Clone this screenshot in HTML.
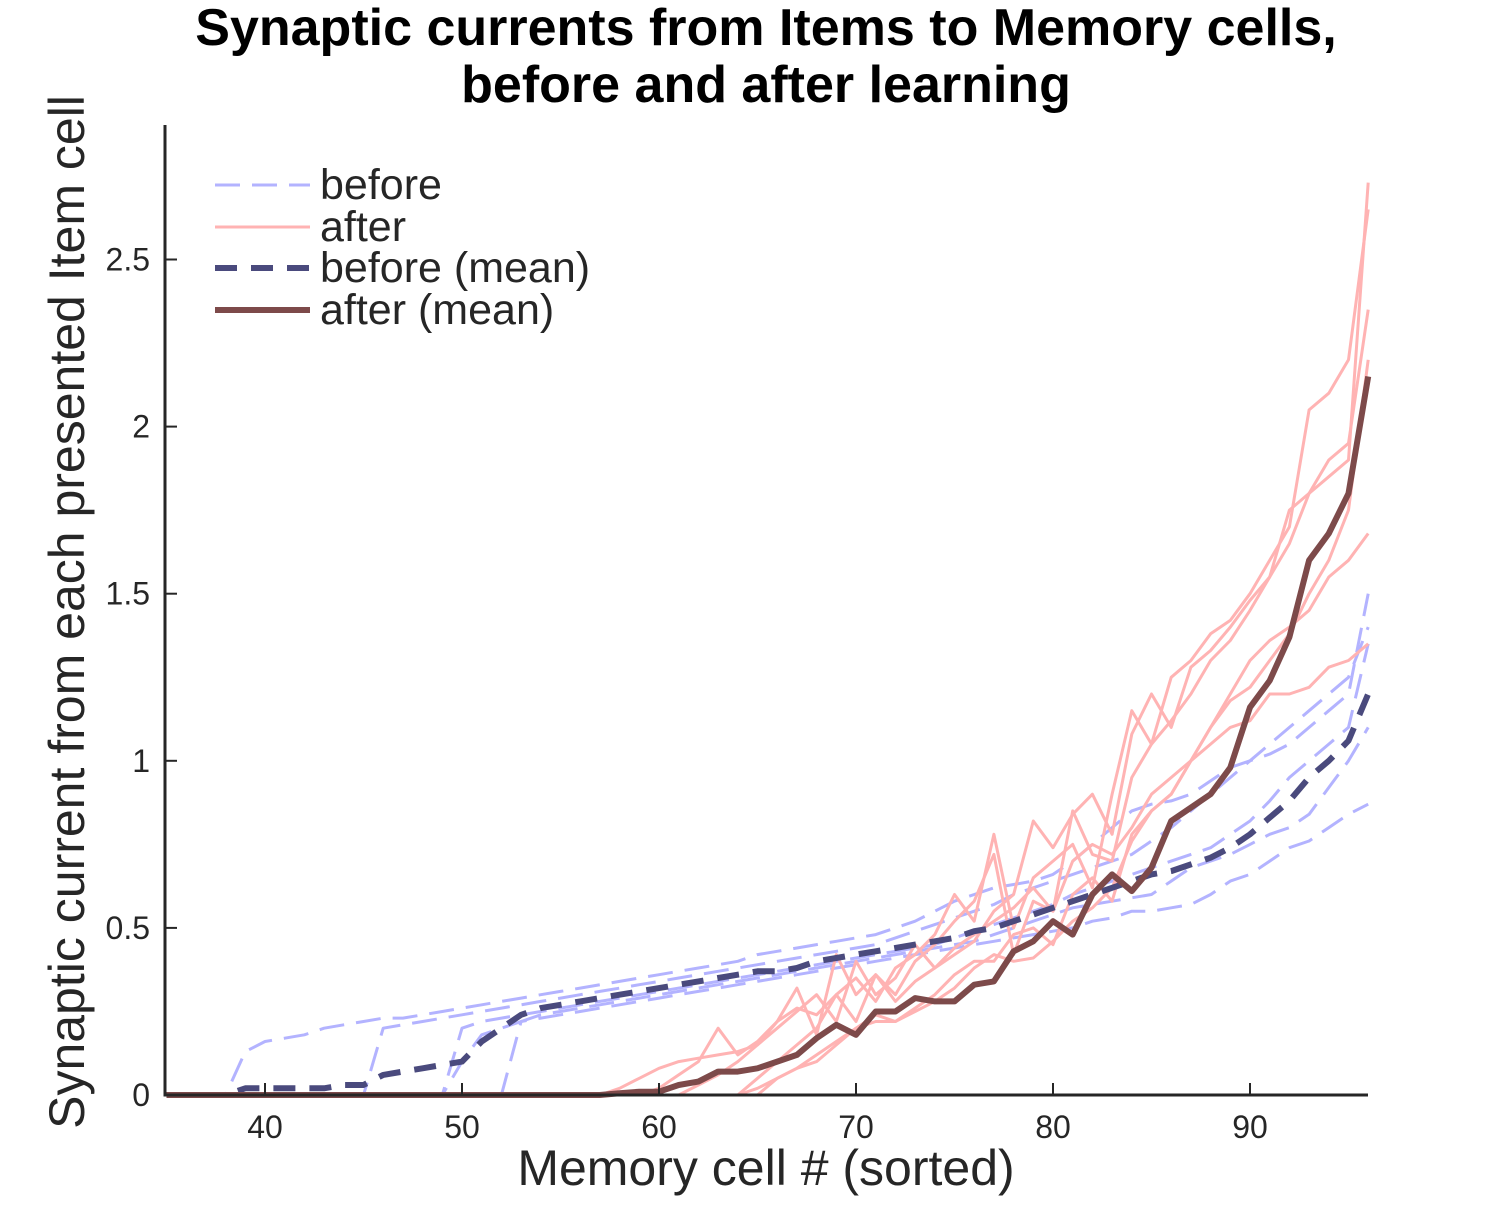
<!DOCTYPE html>
<html><head><meta charset="utf-8">
<style>
body{margin:0;background:#fff;}
svg{display:block;font-family:"Liberation Sans",sans-serif;}
</style></head>
<body>
<svg id="chart" width="1500" height="1223" viewBox="0 0 1500 1223">
<text x="766" y="45" text-anchor="middle" font-size="52" font-weight="bold">Synaptic currents from Items to Memory cells,</text>
<text x="766" y="102" text-anchor="middle" font-size="52" font-weight="bold">before and after learning</text>
<g id="lines"></g>
<g id="axes"></g>
<text x="766" y="1185" text-anchor="middle" font-size="50" fill="#262626">Memory cell # (sorted)</text>
<text transform="translate(84,612) rotate(-90)" text-anchor="middle" font-size="50" fill="#262626">Synaptic current from each presented Item cell</text>
<g>
<line x1="215" y1="185" x2="310" y2="185" stroke="#b3b3ff" stroke-width="3" stroke-dasharray="25,12"/>
<text x="320" y="199" font-size="43" fill="#262626">before</text>
<line x1="215" y1="227" x2="310" y2="227" stroke="#ffb3b3" stroke-width="3"/>
<text x="320" y="241" font-size="43" fill="#262626">after</text>
<line x1="215" y1="268" x2="310" y2="268" stroke="#4a4a7d" stroke-width="6" stroke-dasharray="22,14"/>
<text x="320" y="282" font-size="43" fill="#262626">before (mean)</text>
<line x1="215" y1="310" x2="310" y2="310" stroke="#7d4a4a" stroke-width="6"/>
<text x="320" y="324" font-size="43" fill="#262626">after (mean)</text>
</g>
</svg>
<script>
const xStart = 35;
const xTicks = [40,50,60,70,80,90];
const yTicks = [0,0.5,1,1.5,2,2.5];
const yTickLabels = ["0","0.5","1","1.5","2","2.5"];
// before individual series (x = 35..96)
const before1 = [0,0,0,0,0.13,0.16,0.17,0.18,0.2,0.21,0.22,0.23,0.23,0.24,0.25,0.26,0.27,0.28,0.29,0.3,0.31,0.32,0.33,0.34,0.35,0.36,0.37,0.38,0.39,0.4,0.42,0.43,0.44,0.45,0.46,0.47,0.48,0.5,0.52,0.55,0.58,0.6,0.62,0.63,0.64,0.66,0.7,0.75,0.8,0.85,0.87,0.88,0.9,0.94,0.98,1.0,1.02,1.05,1.1,1.15,1.2,1.5];
const before2 = [0,0,0,0,0,0,0,0,0,0,0,0.2,0.21,0.22,0.23,0.24,0.25,0.26,0.27,0.28,0.29,0.3,0.31,0.32,0.33,0.34,0.35,0.36,0.37,0.38,0.39,0.4,0.41,0.42,0.43,0.44,0.45,0.47,0.49,0.51,0.53,0.55,0.57,0.6,0.62,0.64,0.66,0.68,0.7,0.72,0.76,0.8,0.85,0.9,0.95,1.0,1.05,1.1,1.15,1.2,1.25,1.4];
const before3 = [0,0,0,0,0,0,0,0,0,0,0,0,0,0,0,0.2,0.22,0.23,0.24,0.25,0.26,0.27,0.28,0.29,0.3,0.31,0.32,0.33,0.34,0.35,0.36,0.37,0.38,0.39,0.4,0.41,0.42,0.43,0.44,0.45,0.47,0.49,0.51,0.53,0.55,0.57,0.6,0.62,0.64,0.66,0.68,0.7,0.72,0.74,0.78,0.82,0.88,0.95,1.0,1.05,1.1,1.35];
const before4 = [0,0,0,0,0,0,0,0,0,0,0,0,0,0,0,0,0,0,0.22,0.24,0.25,0.26,0.27,0.28,0.29,0.3,0.31,0.32,0.33,0.34,0.35,0.36,0.37,0.38,0.39,0.4,0.41,0.42,0.43,0.44,0.45,0.46,0.48,0.5,0.52,0.54,0.56,0.57,0.58,0.59,0.6,0.64,0.68,0.7,0.72,0.75,0.78,0.8,0.84,0.92,1.0,1.1];
const before5 = [0,0,0,0,0,0,0,0,0,0,0,0,0,0,0,0.1,0.18,0.2,0.22,0.23,0.24,0.25,0.26,0.27,0.28,0.29,0.3,0.31,0.32,0.33,0.34,0.35,0.36,0.37,0.38,0.39,0.4,0.41,0.42,0.43,0.44,0.45,0.46,0.47,0.48,0.49,0.5,0.52,0.53,0.55,0.55,0.56,0.57,0.6,0.64,0.66,0.7,0.74,0.76,0.8,0.84,0.87];
const beforeMean = [0,0,0,0,0.02,0.02,0.02,0.02,0.02,0.03,0.03,0.06,0.07,0.08,0.09,0.1,0.16,0.2,0.24,0.26,0.27,0.28,0.29,0.3,0.31,0.32,0.33,0.34,0.35,0.36,0.37,0.37,0.38,0.4,0.41,0.42,0.43,0.44,0.45,0.46,0.47,0.49,0.5,0.52,0.54,0.56,0.58,0.6,0.62,0.64,0.66,0.67,0.69,0.71,0.74,0.78,0.83,0.88,0.95,1.0,1.06,1.2];
// after individual series (x = 55..96)
const afterStart = 55;
const after1 = [0,0,0,0.02,0.05,0.08,0.1,0.11,0.12,0.13,0.15,0.2,0.25,0.3,0.22,0.4,0.3,0.35,0.45,0.38,0.42,0.46,0.55,0.6,0.82,0.74,0.84,0.9,0.78,1.08,1.2,1.1,1.28,1.33,1.4,1.48,1.55,1.75,1.8,1.85,1.9,2.73];
const after2 = [0,0,0,0,0,0.02,0.06,0.1,0.2,0.12,0.16,0.22,0.26,0.24,0.3,0.35,0.28,0.38,0.42,0.48,0.6,0.52,0.78,0.5,0.65,0.7,0.75,0.62,0.9,1.15,1.05,1.25,1.3,1.38,1.42,1.5,1.6,1.7,2.05,2.1,2.2,2.65];
const after3 = [0,0,0,0,0,0,0,0.03,0.06,0.1,0.15,0.22,0.32,0.18,0.42,0.3,0.36,0.3,0.4,0.45,0.52,0.58,0.72,0.42,0.58,0.55,0.85,0.72,0.7,0.95,1.05,1.12,1.2,1.3,1.36,1.45,1.55,1.65,1.8,1.9,1.95,2.35];
const after4 = [0,0,0,0,0,0,0,0,0,0,0.05,0.1,0.15,0.2,0.3,0.22,0.36,0.28,0.34,0.38,0.44,0.48,0.52,0.56,0.62,0.55,0.7,0.75,0.72,0.8,0.9,0.95,1.0,1.1,1.2,1.3,1.36,1.4,1.45,1.55,1.6,1.68];
const after5 = [0,0,0,0,0,0,0,0,0,0,0,0.05,0.08,0.1,0.15,0.2,0.24,0.22,0.26,0.3,0.36,0.4,0.4,0.48,0.5,0.45,0.6,0.65,0.58,0.78,0.85,0.9,1.0,1.05,1.1,1.12,1.2,1.2,1.22,1.28,1.3,1.35];
const after6 = [0,0,0,0,0,0,0,0,0,0,0.02,0.05,0.08,0.12,0.16,0.2,0.22,0.22,0.25,0.28,0.32,0.38,0.42,0.4,0.41,0.46,0.52,0.56,0.62,0.76,0.85,0.9,1.0,1.1,1.18,1.22,1.3,1.38,1.5,1.6,1.75,2.2];
const afterMean = [0,0,0,0.005,0.01,0.01,0.03,0.04,0.07,0.07,0.08,0.1,0.12,0.17,0.21,0.18,0.25,0.25,0.29,0.28,0.28,0.33,0.34,0.43,0.46,0.52,0.48,0.6,0.66,0.61,0.68,0.82,0.86,0.9,0.98,1.16,1.24,1.37,1.6,1.68,1.8,2.15];

const X0=165,X1=1368,Y0=1095;
const xs = v => 265 + (v-40)*19.7;
const ys = v => Y0 - v*334.2;
const NS="http://www.w3.org/2000/svg";
const lines=document.getElementById('lines');
const axes=document.getElementById('axes');
function mk(tag,attrs,parent){const e=document.createElementNS(NS,tag);for(const k in attrs)e.setAttribute(k,attrs[k]);parent.appendChild(e);return e;}
function series(arr,start,stroke,w,dash,name){
  let full=[];
  for(let x=35;x<start;x++) full.push([x,0]);
  arr.forEach((v,i)=>full.push([start+i,v]));
  full=full.filter(p=>p[0]<=96);
  const d=full.map((p,i)=>(i?'L':'M')+xs(p[0]).toFixed(1)+','+ys(p[1]).toFixed(1)).join('');
  const p=mk('path',{d:d,fill:'none',stroke:stroke,'stroke-width':w,'stroke-linejoin':'round'},lines);
  if(dash)p.setAttribute('stroke-dasharray',dash);
  
  
}
[before1,before2,before3,before4,before5].forEach((a,i)=>series(a,xStart,'#b3b3ff',3,'25,12','before-line-'+(i+1)));
[after1,after2,after3,after4,after5,after6].forEach((a,i)=>series(a,afterStart,'#ffb3b3',3,null,'after-line-'+(i+1)));
series(beforeMean,xStart,'#4a4a7d',6,'22,14','before-mean-line');
series(afterMean,afterStart,'#7d4a4a',6,null,'after-mean-line');
const ax=mk('path',{d:`M${X0},125L${X0},${Y0}L${X1},${Y0}`,fill:'none',stroke:'#262626','stroke-width':3},axes);


xTicks.forEach(t=>{
  const l=mk('line',{x1:xs(t),x2:xs(t),y1:Y0,y2:Y0-12,stroke:'#262626','stroke-width':2},axes);
  
  
  const tx=mk('text',{x:xs(t),y:1138,'text-anchor':'middle','font-size':32,fill:'#262626'},axes);
  tx.textContent=t;
  
  
});
yTicks.forEach((t,i)=>{
  const l=mk('line',{x1:X0,x2:X0+12,y1:ys(t),y2:ys(t),stroke:'#262626','stroke-width':2},axes);
  
  
  const tx=mk('text',{x:150,y:ys(t)+11,'text-anchor':'end','font-size':32,fill:'#262626'},axes);
  tx.textContent=yTickLabels[i];
  
  
});
</script>
</body></html>
